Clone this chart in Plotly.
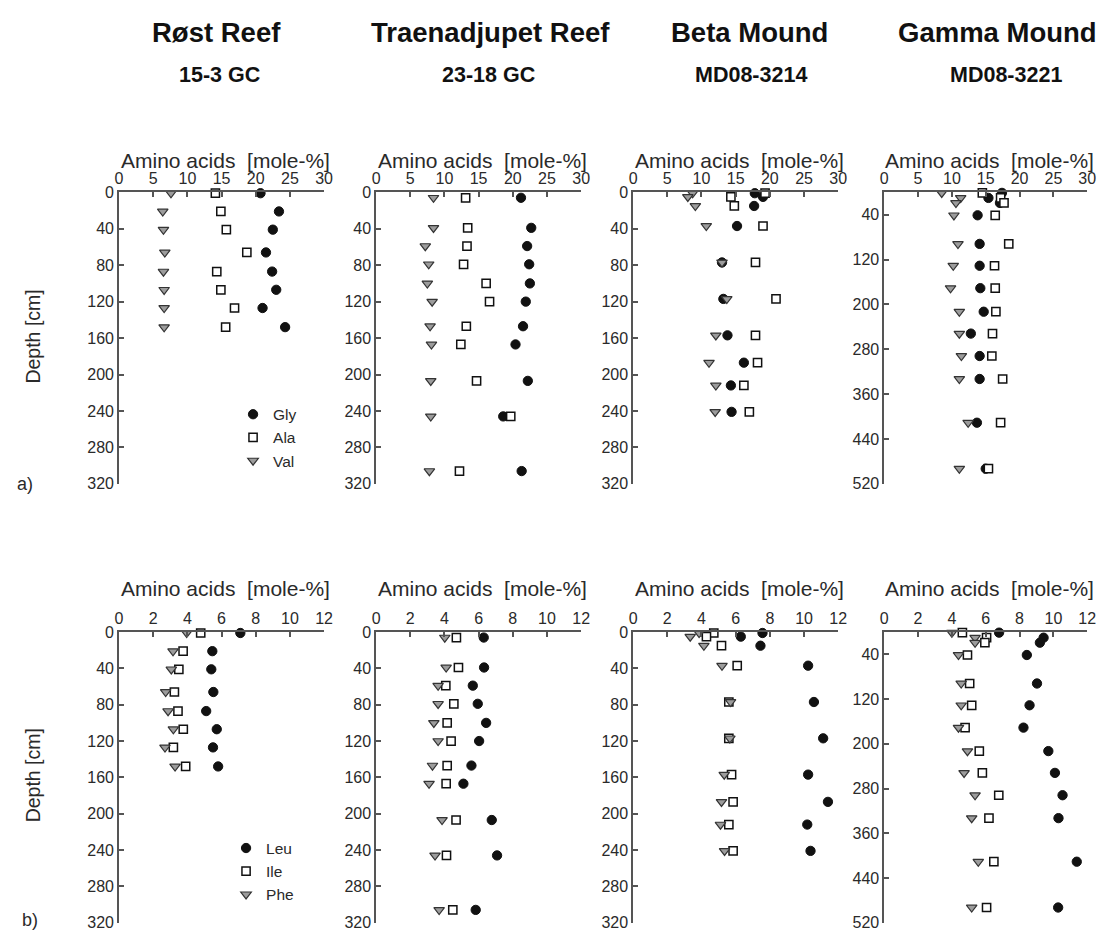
import plotly.graph_objects as go

W, H = 1105, 931
# Measured placement of the figure inside the photographed page:
# picture_px = OFF + SCALE * figure_px  (per axis)
OFF_X, SC_X = 11.0, 0.988
OFF_Y, SC_Y = 16.0, 0.980

# ---------------- data ----------------
cores = ["Røst Reef", "Traenadjupet Reef", "Beta Mound", "Gamma Mound"]
core_ids = ["15-3 GC", "23-18 GC", "MD08-3214", "MD08-3221"]
top_names = ["Gly", "Ala", "Val"]
bot_names = ["Leu", "Ile", "Phe"]

depth_rost = [1, 21, 41, 66, 87, 107, 127, 148]
gly_rost = [20.7, 23.4, 22.5, 21.5, 22.4, 23.0, 21.0, 24.3]
ala_rost = [14.1, 14.9, 15.7, 18.7, 14.3, 14.9, 16.9, 15.6]
val_rost = [7.6, 6.4, 6.5, 6.7, 6.5, 6.6, 6.6, 6.6]
leu_rost = [7.1, 5.46, 5.4, 5.52, 5.1, 5.72, 5.5, 5.8]
ile_rost = [4.78, 3.75, 3.5, 3.24, 3.45, 3.76, 3.18, 3.9]
phe_rost = [3.96, 3.16, 3.06, 2.73, 2.87, 3.18, 2.69, 3.28]

depth_tr = [6, 39, 59, 79, 100, 120, 147, 167, 207, 246, 306]
gly_tr = [21.2, 22.7, 22.1, 22.4, 22.5, 21.9, 21.5, 20.4, 22.2, 18.6, 21.3]
ala_tr = [13.1, 13.4, 13.3, 12.8, 16.1, 16.6, 13.2, 12.4, 14.7, 19.7, 12.2]
val_tr = [8.4, 8.4, 7.2, 7.7, 7.5, 8.2, 7.9, 8.1, 8.0, 8.0, 7.8]
leu_tr = [6.3, 6.32, 5.66, 5.95, 6.44, 6.03, 5.58, 5.11, 6.77, 7.08, 5.83]
ile_tr = [4.7, 4.82, 4.08, 4.55, 4.16, 4.39, 4.16, 4.1, 4.68, 4.12, 4.49]
phe_tr = [4.02, 4.1, 3.63, 3.63, 3.38, 3.63, 3.3, 3.1, 3.86, 3.45, 3.69]

depth_beta = [1, 5, 15, 37, 77, 117, 157, 187, 212, 241]
gly_beta = [17.8, 19.0, 17.7, 15.2, 13.0, 13.2, 13.8, 16.2, 14.3, 14.4]
ala_beta = [19.3, 14.3, 14.8, 19.0, 17.9, 20.9, 17.9, 18.2, 16.2, 17.0]
val_beta = [8.7, 8.0, 9.1, 10.7, 13.0, 13.7, 12.1, 11.1, 12.1, 12.0]
leu_beta = [7.57, 6.3, 7.45, 10.24, 10.58, 11.12, 10.24, 11.4, 10.19, 10.38]
ile_beta = [4.72, 4.29, 5.17, 6.09, 5.6, 5.6, 5.76, 5.85, 5.6, 5.85]
phe_beta = [3.86, 3.34, 4.14, 5.2, 5.7, 5.66, 5.33, 5.17, 5.11, 5.35]

depth_gam = [1, 10, 19, 41, 92, 131, 171, 213, 252, 292, 333, 411, 493]
gly_gam = [17.4, 15.4, 17.1, 13.8, 14.1, 14.1, 14.2, 14.7, 12.8, 14.1, 14.1, 13.7, 15.0]
ala_gam = [14.5, 17.2, 17.7, 16.4, 18.4, 16.3, 16.4, 16.5, 16.0, 15.9, 17.5, 17.2, 15.4]
val_gam = [8.5, 11.3, 10.6, 10.3, 10.9, 10.2, 9.8, 11.1, 11.1, 11.4, 11.1, 12.4, 11.1]
leu_gam = [6.79, 9.42, 9.2, 8.43, 9.03, 8.59, 8.23, 9.7, 10.09, 10.54, 10.3, 11.38, 10.28]
ile_gam = [4.62, 6.05, 5.95, 4.92, 5.05, 5.17, 4.78, 5.62, 5.8, 6.77, 6.19, 6.48, 6.05]
phe_gam = [4.0, 5.37, 5.37, 4.39, 4.55, 4.55, 4.39, 4.92, 4.72, 5.37, 5.17, 5.56, 5.17]

depth_ticks_std = [0, 40, 80, 120, 160, 200, 240, 280, 320]
depth_ticks_gam = [40, 120, 200, 280, 360, 440, 520]

depths = [depth_rost, depth_tr, depth_beta, depth_gam]
top_vals = [[gly_rost, ala_rost, val_rost], [gly_tr, ala_tr, val_tr],
            [gly_beta, ala_beta, val_beta], [gly_gam, ala_gam, val_gam]]
bot_vals = [[leu_rost, ile_rost, phe_rost], [leu_tr, ile_tr, phe_tr],
            [leu_beta, ile_beta, phe_beta], [leu_gam, ile_gam, phe_gam]]

# ---------------- styles / layout ----------------
marker_styles = [
    dict(symbol="circle", size=9.3, color="#111111", line=dict(color="#111111", width=1)),
    dict(symbol="square", size=8.2, color="white", line=dict(color="#111111", width=1.5)),
    dict(symbol="triangle-down", size=9.2, color="#9c9c9c", line=dict(color="#333333", width=1.2)),
]
AX = "#555555"
TXT = "#2a2a2a"
FONT = "Liberation Sans, Arial, sans-serif"


def px_x(p):
    return ((p - OFF_X) / SC_X) / W


def px_y(p):
    return 1 - ((p - OFF_Y) / SC_Y) / H


px_left = [118, 375, 632, 883]
pw = [205, 205, 205, 203]
rows = [dict(top=192, bot=483), dict(top=631, bot=921)]
title_cx = [215, 489, 748, 996]
sub_cx = [218, 487, 750, 1005]

fig = go.Figure()
layout = dict(width=W, height=H, margin=dict(l=0, r=0, t=0, b=0),
              paper_bgcolor="white", plot_bgcolor="white", showlegend=True,
              font=dict(family=FONT, color=TXT))
annotations = []

for r in range(2):
    for c in range(4):
        i = r * 4 + c + 1
        xa = "x" if i == 1 else f"x{i}"
        ya = "y" if i == 1 else f"y{i}"
        vals = top_vals[c] if r == 0 else bot_vals[c]
        names = top_names if r == 0 else bot_names
        for k in range(3):
            fig.add_trace(go.Scatter(
                x=vals[k], y=depths[c], mode="markers", name=names[k],
                marker=marker_styles[k], xaxis=xa, yaxis=ya, cliponaxis=False,
                showlegend=(c == 0), legend=("legend" if r == 0 else "legend2")))
        top, bot = rows[r]["top"], rows[r]["bot"]
        xdom = [px_x(px_left[c]), px_x(px_left[c] + pw[c])]
        ydom = [px_y(bot), px_y(top)]
        xrange = [0, 30] if r == 0 else [0, 12]
        dtick = 5 if r == 0 else 2
        layout["xaxis" if i == 1 else f"xaxis{i}"] = dict(
            domain=xdom, anchor=ya, side="top", range=xrange, dtick=dtick,
            ticks="inside", ticklen=5, tickwidth=1.5, tickcolor=AX,
            showline=True, linecolor=AX, linewidth=1.6, showgrid=False, zeroline=False,
            tickfont=dict(size=16, color=TXT, family=FONT))
        if c == 3:
            yr, tv = [520, 0], depth_ticks_gam
        else:
            yr, tv = [320, 0], depth_ticks_std
        layout["yaxis" if i == 1 else f"yaxis{i}"] = dict(
            domain=ydom, anchor=xa, range=yr, tickvals=tv,
            ticks="inside", ticklen=5, tickwidth=1.5, tickcolor=AX,
            showline=True, linecolor=AX, linewidth=1.6, showgrid=False, zeroline=False,
            tickfont=dict(size=16, color=TXT, family=FONT))
        annotations.append(dict(
            text="Amino acids  [mole-%]", xref="paper", yref="paper",
            x=px_x(px_left[c] + pw[c] / 2 + 4), y=px_y(160 if r == 0 else 587),
            xanchor="center", yanchor="middle", showarrow=False,
            font=dict(size=21, color=TXT, family=FONT)))

for c in range(4):
    annotations.append(dict(text=f"<b>{cores[c]}</b>", xref="paper", yref="paper",
                            x=px_x(title_cx[c]), y=px_y(32), xanchor="center", yanchor="middle",
                            showarrow=False, font=dict(size=27.5, color="#111", family=FONT)))
    annotations.append(dict(text=f"<b>{core_ids[c]}</b>", xref="paper", yref="paper",
                            x=px_x(sub_cx[c]), y=px_y(75), xanchor="center", yanchor="middle",
                            showarrow=False, font=dict(size=21.5, color="#111", family=FONT)))

for yc in [336, 774]:
    annotations.append(dict(text="Depth [cm]", xref="paper", yref="paper",
                            x=px_x(32), y=px_y(yc), xanchor="center", yanchor="middle",
                            textangle=-90, showarrow=False,
                            font=dict(size=19.5, color=TXT, family=FONT)))

for lab, (lx, ly) in zip(["a)", "b)"], [(24, 483), (29, 918)]):
    annotations.append(dict(text=lab, xref="paper", yref="paper",
                            x=px_x(lx), y=px_y(ly), xanchor="center", yanchor="middle",
                            showarrow=False, font=dict(size=18, color=TXT, family=FONT)))

legend_style = dict(xanchor="left", yanchor="top", bgcolor="rgba(0,0,0,0)",
                    font=dict(size=15.5, color=TXT, family=FONT), itemwidth=30,
                    tracegroupgap=0)
layout["legend"] = dict(x=px_x(232), y=px_y(397), **legend_style)
layout["legend2"] = dict(x=px_x(225), y=px_y(830), **legend_style)
layout["annotations"] = annotations

fig.update_layout(**layout)
fig.write_html("out.html")
